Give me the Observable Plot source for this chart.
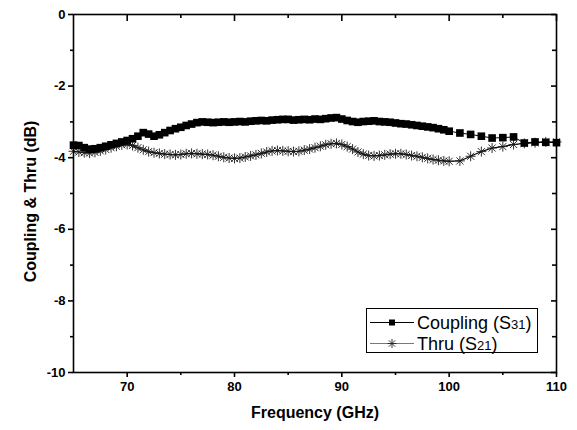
<!DOCTYPE html>
<html><head><meta charset="utf-8">
<script src="https://cdn.jsdelivr.net/npm/d3@7"></script>
<script src="https://cdn.jsdelivr.net/npm/@observablehq/plot@0.6"></script>
<style>
body{margin:0;background:#fff;}
#wrap{position:relative;width:577px;height:430px;font-family:"Liberation Sans",Arial,sans-serif;}
#legend{position:absolute;left:366px;top:308px;}
</style></head><body><div id="wrap"></div>
<script>
const freqGHz = [
65,65.5,66,66.5,67,67.5,68,68.5,69,69.5,
70,70.5,71,71.5,72,72.5,73,73.5,74,74.5,
75,75.5,76,76.5,77,77.5,78,78.5,79,79.5,
80,80.5,81,81.5,82,82.5,83,83.5,84,84.5,
85,85.5,86,86.5,87,87.5,88,88.5,89,89.5,
90,90.5,91,91.5,92,92.5,93,93.5,94,94.5,
95,95.5,96,96.5,97,97.5,98,98.5,99,99.5,
100,101,102,103,104,105,106,107,108,109,
110];
const couplingS31 = [
-3.65,-3.66,-3.72,-3.76,-3.75,-3.72,-3.68,-3.64,-3.60,-3.56,
-3.52,-3.47,-3.40,-3.30,-3.34,-3.40,-3.36,-3.30,-3.24,-3.19,
-3.15,-3.10,-3.06,-3.02,-3.00,-3.01,-3.02,-3.01,-3.00,-3.01,
-3.00,-2.99,-3.00,-2.98,-2.97,-2.96,-2.97,-2.95,-2.94,-2.93,
-2.93,-2.95,-2.94,-2.93,-2.94,-2.92,-2.93,-2.91,-2.89,-2.88,
-2.92,-2.96,-2.99,-3.01,-2.99,-2.98,-2.97,-2.99,-3.00,-3.01,
-3.03,-3.05,-3.06,-3.08,-3.10,-3.12,-3.14,-3.16,-3.19,-3.22,
-3.26,-3.31,-3.35,-3.40,-3.45,-3.44,-3.42,-3.59,-3.56,-3.57,
-3.58];
const thruS21 = [
-3.82,-3.84,-3.86,-3.87,-3.85,-3.81,-3.77,-3.72,-3.68,-3.64,
-3.63,-3.66,-3.72,-3.78,-3.83,-3.86,-3.88,-3.90,-3.91,-3.92,
-3.91,-3.89,-3.88,-3.89,-3.90,-3.91,-3.93,-3.96,-3.99,-4.01,
-4.02,-4.01,-3.98,-3.95,-3.92,-3.88,-3.84,-3.81,-3.80,-3.81,
-3.82,-3.83,-3.82,-3.79,-3.76,-3.72,-3.68,-3.64,-3.61,-3.60,
-3.63,-3.69,-3.76,-3.84,-3.90,-3.94,-3.95,-3.94,-3.92,-3.90,
-3.89,-3.89,-3.91,-3.94,-3.96,-3.99,-4.02,-4.05,-4.07,-4.09,
-4.10,-4.09,-3.96,-3.83,-3.73,-3.69,-3.63,-3.60,-3.58,-3.56,
-3.56];
const xMajorTicks = [70, 80, 90, 100, 110];
const xMinorTicks = [75, 85, 95, 105];
const yMajorTicks = [0, -2, -4, -6, -8, -10];
const yMinorTicks = [-1, -3, -5, -7, -9];
const xTitle = "Frequency (GHz)";
const yTitle = "Coupling & Thru (dB)";

const coupling = freqGHz.map((f, i) => ({f, v: couplingS31[i]}));
const thru = freqGHz.map((f, i) => ({f, v: thruS21[i]}));

const star8 = {draw(ctx, size) {
  const r = Math.sqrt(size / Math.PI), d = r * Math.SQRT1_2;
  ctx.moveTo(-r, 0); ctx.lineTo(r, 0);
  ctx.moveTo(0, -r); ctx.lineTo(0, r);
  ctx.moveTo(-d, -d); ctx.lineTo(d, d);
  ctx.moveTo(-d, d); ctx.lineTo(d, -d);
}};

const W = 577, H = 430, mL = 73, mR = 21, mT = 14, mB = 58;
const innerW = W - mL - mR, innerH = H - mT - mB;
const tickFont = {fontSize: 13, fontWeight: "bold"};

const chart = Plot.plot({
  width: W, height: H,
  marginLeft: mL, marginRight: mR, marginTop: mT, marginBottom: mB,
  style: {fontFamily: "'Liberation Sans', Arial, sans-serif", background: "#fff", color: "#000"},
  x: {domain: [65, 110]},
  y: {domain: [-10, 0]},
  marks: [
    Plot.line(thru, {x: "f", y: "v", stroke: "#000", strokeWidth: 1.1}),
    Plot.dot(thru, {x: "f", y: "v", symbol: star8, r: 5, fill: "none", stroke: "#1a1a1a", strokeWidth: 0.9}),
    Plot.line(coupling, {x: "f", y: "v", stroke: "#000", strokeWidth: 1}),
    Plot.dot(coupling, {x: "f", y: "v", symbol: "square", r: 4.3, fill: "#000", stroke: "none"}),
    Plot.frame({stroke: "#000", strokeWidth: 1.6}),
    Plot.axisX(xMajorTicks, {anchor: "bottom", tickSize: 5, tickPadding: 4, strokeWidth: 1.6, tickFormat: d => String(d), label: null, ...tickFont}),
    Plot.axisX(xMinorTicks, {anchor: "bottom", tickSize: 3, strokeWidth: 1.6, tickFormat: () => "", label: null}),
    Plot.axisY(yMajorTicks, {anchor: "left", tickSize: 5, tickPadding: 3, strokeWidth: 1.6, tickFormat: d => String(d), label: null, ...tickFont}),
    Plot.axisY(yMinorTicks, {anchor: "left", tickSize: 3, strokeWidth: 1.6, tickFormat: () => "", label: null}),
    Plot.tickX(xMajorTicks, {x: d => d, insetBottom: innerH - 7, stroke: "#000", strokeWidth: 1.6}),
    Plot.tickX(xMinorTicks, {x: d => d, insetBottom: innerH - 4, stroke: "#000", strokeWidth: 1.6}),
    Plot.tickY(yMajorTicks, {y: d => d, insetLeft: innerW - 5, stroke: "#000", strokeWidth: 1.6}),
    Plot.tickY(yMinorTicks, {y: d => d, insetLeft: innerW - 4, stroke: "#000", strokeWidth: 1.6}),
    Plot.text([xTitle], {frameAnchor: "bottom", dy: 40, text: d => d, fontSize: 16, fontWeight: "bold", lineAnchor: "middle", textAnchor: "middle"}),
    Plot.text([yTitle], {frameAnchor: "left", dx: -43, dy: 8, text: d => d, rotate: -90, fontSize: 16, fontWeight: "bold", lineAnchor: "middle", textAnchor: "middle"})
  ]
});
const wrap = document.getElementById("wrap");
wrap.appendChild(chart);

const legend = document.createElement("div");
legend.id = "legend";
legend.innerHTML = `<svg width="173" height="46" xmlns="http://www.w3.org/2000/svg" font-family="'Liberation Sans', Arial, sans-serif">
  <rect x="0.5" y="0.5" width="171" height="44" fill="#fff" stroke="#000" stroke-width="1"/>
  <line x1="4" x2="48" y1="14.5" y2="14.5" stroke="#000" stroke-width="1"/>
  <rect x="23" y="11.5" width="6" height="6" fill="#000"/>
  <text x="51" y="20.5" font-size="18">Coupling (S<tspan font-size="13">31</tspan>)</text>
  <line x1="4" x2="48" y1="35.5" y2="35.5" stroke="#555" stroke-width="0.8"/>
  <path d="M21.5,35.5H30.5M26,31V40M22.8,32.3L29.2,38.7M22.8,38.7L29.2,32.3" stroke="#222" stroke-width="0.9" fill="none"/>
  <text x="51" y="41.5" font-size="18">Thru (S<tspan font-size="13">21</tspan>)</text>
</svg>`;
wrap.appendChild(legend);
</script>
</body></html>
